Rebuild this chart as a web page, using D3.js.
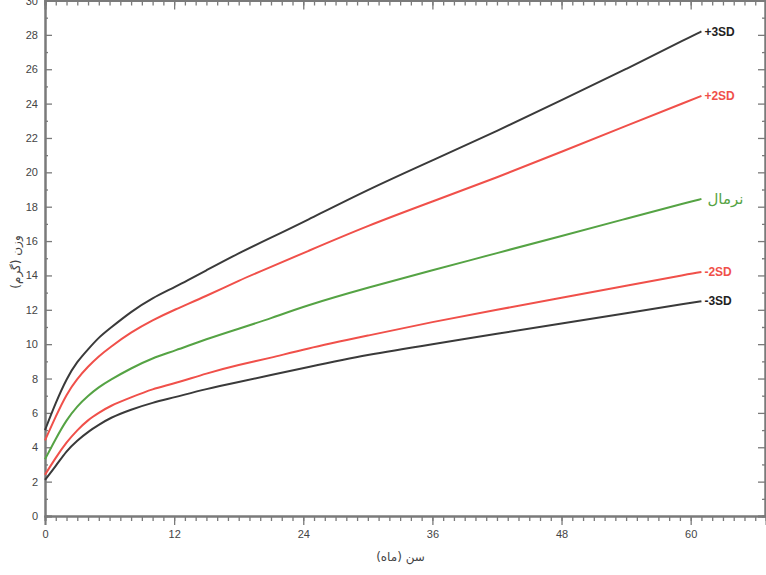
<!DOCTYPE html>
<html>
<head>
<meta charset="utf-8">
<script src="https://cdn.jsdelivr.net/npm/d3@7/dist/d3.min.js"></script>
<style>
  html, body { margin: 0; padding: 0; background: #fff; }
  svg { display: block; }
  text { font-family: "Liberation Sans", Arial, sans-serif; }
</style>
</head>
<body>
<svg id="chart" width="766" height="575"></svg>
<script>
// ---- data ----
const months = [0, 1, 2, 3, 4, 5, 6, 8, 10, 12, 15, 18, 21, 24, 30, 36, 42, 48, 54, 60, 61];
const minus3SD = [2.1, 2.9, 3.8, 4.4, 4.9, 5.3, 5.7, 6.2, 6.6, 6.9, 7.4, 7.8, 8.2, 8.6, 9.4, 10.0, 10.6, 11.2, 11.8, 12.4, 12.5];
const minus2SD = [2.4, 3.4, 4.3, 5.0, 5.6, 6.0, 6.4, 6.9, 7.4, 7.7, 8.3, 8.8, 9.2, 9.7, 10.5, 11.3, 12.0, 12.7, 13.4, 14.1, 14.2];
const median   = [3.3, 4.5, 5.6, 6.4, 7.0, 7.5, 7.9, 8.6, 9.2, 9.6, 10.3, 10.9, 11.5, 12.2, 13.3, 14.3, 15.3, 16.3, 17.3, 18.3, 18.45];
const plus2SD  = [4.4, 5.8, 7.1, 8.0, 8.7, 9.3, 9.8, 10.7, 11.4, 12.0, 12.8, 13.7, 14.5, 15.3, 16.9, 18.3, 19.7, 21.2, 22.7, 24.2, 24.45];
const plus3SD  = [5.0, 6.6, 8.0, 9.0, 9.7, 10.4, 10.9, 11.9, 12.7, 13.3, 14.3, 15.3, 16.2, 17.1, 19.0, 20.7, 22.4, 24.2, 26.0, 27.9, 28.2];

const seriesNames  = ["-3SD", "-2SD", "نرمال", "+2SD", "+3SD"];
const seriesValues = [minus3SD, minus2SD, median, plus2SD, plus3SD];
const seriesColors = ["#3a3a3a", "#f0504a", "#55a344", "#f0504a", "#3a3a3a"];

const xMajorTicks = [0, 12, 24, 36, 48, 60];
const yMajorTicks = [0, 2, 4, 6, 8, 10, 12, 14, 16, 18, 20, 22, 24, 26, 28, 30];
const xTitle = "سن (ماه)";
const yTitle = "وزن (گرم)";

// ---- layout ----
const svg = d3.select("#chart");
const mLeft = 45, mRight = 766, mTop = 0.5, mBottom = 516;
const x = d3.scaleLinear().domain([0, 67]).range([mLeft, mRight]);
const y = d3.scaleLinear().domain([0, 30]).range([mBottom, mTop]);

const axisColor = "#7a7a7a";
const labelColor = "#444";

function styleAxis(g) {
  g.select(".domain").attr("stroke", axisColor).attr("stroke-width", 2);
  g.selectAll(".tick line").attr("stroke", axisColor).attr("stroke-width", 1.3);
  g.selectAll(".tick text").attr("fill", labelColor).attr("font-size", 11);
}

// bottom axis: minor then major
svg.append("g").attr("transform", `translate(0,${mBottom})`)
  .call(d3.axisBottom(x).tickValues(d3.range(0, 68)).tickSize(5).tickFormat(""))
  .call(styleAxis);
svg.append("g").attr("transform", `translate(0,${mBottom})`)
  .call(d3.axisBottom(x).tickValues(xMajorTicks).tickSize(9).tickPadding(5).tickFormat(d3.format("d")))
  .call(styleAxis);

// top axis (inward ticks)
svg.append("g").attr("transform", `translate(0,${mTop})`)
  .call(d3.axisTop(x).tickValues(d3.range(0, 68)).tickSize(-5).tickFormat(""))
  .call(styleAxis);
svg.append("g").attr("transform", `translate(0,${mTop})`)
  .call(d3.axisTop(x).tickValues(xMajorTicks).tickSize(-9).tickFormat(""))
  .call(styleAxis);

// left axis (inward ticks)
svg.append("g").attr("transform", `translate(${mLeft},0)`)
  .call(d3.axisLeft(y).tickValues(d3.range(1, 30, 2)).tickSize(-3).tickFormat(""))
  .call(styleAxis);
svg.append("g").attr("transform", `translate(${mLeft},0)`)
  .call(d3.axisLeft(y).tickValues(yMajorTicks).tickSize(-7).tickPadding(7).tickFormat(d3.format("d")))
  .call(styleAxis);

// right axis (inward ticks)
svg.append("g").attr("transform", `translate(${mRight - 1},0)`)
  .call(d3.axisRight(y).tickValues(d3.range(1, 30, 2)).tickSize(-3).tickFormat(""))
  .call(styleAxis);
svg.append("g").attr("transform", `translate(${mRight - 1},0)`)
  .call(d3.axisRight(y).tickValues(yMajorTicks).tickSize(-7).tickFormat(""))
  .call(styleAxis);

// curves
const line = d3.line()
  .x((d, i) => x(months[i]))
  .y(d => y(d))
  .curve(d3.curveBasis);

seriesValues.forEach((vals, k) => {
  svg.append("path")
    .datum(vals)
    .attr("fill", "none")
    .attr("stroke", seriesColors[k])
    .attr("stroke-width", 2)
    .attr("d", line);
  const last = vals.length - 1;
  const isPersian = seriesNames[k] === "نرمال";
  svg.append("text")
    .attr("x", x(months[last]) + (isPersian ? 6 : 3))
    .attr("y", y(vals[last]))
    .attr("dy", "0.35em")
    .attr("fill", seriesColors[k] === "#3a3a3a" ? "#222" : seriesColors[k])
    .attr("font-size", isPersian ? 15 : 12)
    .attr("font-weight", isPersian ? "normal" : "bold")
    .style("font-family", isPersian ? "'DejaVu Sans', sans-serif" : "'Liberation Sans', Arial, sans-serif")
    .text(seriesNames[k]);
});

// axis titles
svg.append("text")
  .attr("x", (mLeft + mRight) / 2 - 5)
  .attr("y", 561)
  .attr("text-anchor", "middle")
  .attr("fill", labelColor)
  .attr("font-size", 12)
  .style("font-family", "'DejaVu Sans', sans-serif")
  .text(xTitle);

svg.append("text")
  .attr("transform", `translate(20,262) rotate(-90)`)
  .attr("text-anchor", "middle")
  .attr("fill", labelColor)
  .attr("font-size", 12)
  .style("font-family", "'DejaVu Sans', sans-serif")
  .text(yTitle);
</script>
</body>
</html>
